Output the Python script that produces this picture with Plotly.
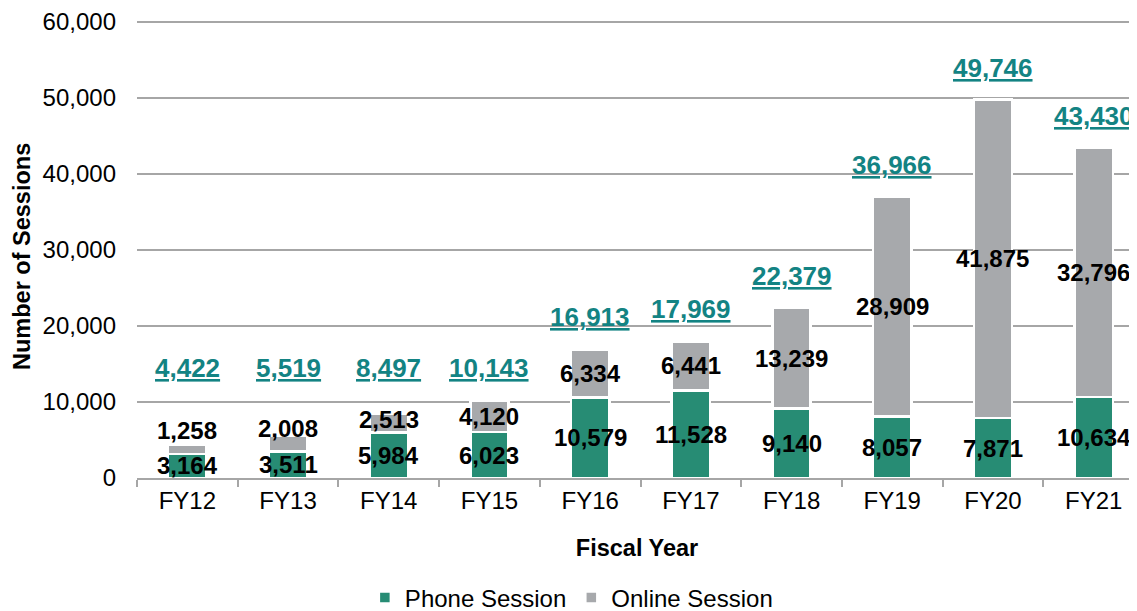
import plotly.graph_objects as go

years = ["FY12", "FY13", "FY14", "FY15", "FY16", "FY17", "FY18", "FY19", "FY20", "FY21"]
phone = [3164, 3511, 5984, 6023, 10579, 11528, 9140, 8057, 7871, 10634]
online = [1258, 2008, 2513, 4120, 6334, 6441, 13239, 28909, 41875, 32796]
totals = [4422, 5519, 8497, 10143, 16913, 17969, 22379, 36966, 49746, 43430]

GREEN = "#278C74"
GRAY = "#A7A9AC"
TEAL = "#138383"
FONT = "Liberation Sans, Arial, sans-serif"

fig = go.Figure()
fig.add_trace(go.Bar(x=years, y=phone, name="Phone Session", marker=dict(color=GREEN, line=dict(color="white", width=2.5)), width=0.38))
fig.add_trace(go.Bar(x=years, y=online, name="Online Session", marker=dict(color=GRAY, line=dict(color="white", width=2.5)), width=0.38))

ann = []
for i, yr in enumerate(years):
    p, o, t = phone[i], online[i], totals[i]
    ann.append(dict(x=yr, y=p / 2, text=f"{p:,}", showarrow=False, yanchor="middle",
                    font=dict(family=FONT, size=24, color="black", weight="bold")))
    oy = max(p + o / 2, p / 2 + 4700)
    ann.append(dict(x=yr, y=oy, text=f"{o:,}", showarrow=False, yanchor="middle",
                    font=dict(family=FONT, size=24, color="black", weight="bold")))
    ty = max(t, 10200) + 4200
    ann.append(dict(x=yr, y=ty, text=f"{t:,}", showarrow=False, yanchor="middle",
                    font=dict(family=FONT, size=26, color=TEAL, weight="bold", lineposition="under")))

# y-axis title as a rotated annotation
ann.append(dict(xref="paper", yref="paper", x=-0.115, y=0.4825, xanchor="center", yanchor="middle",
                text="<b>Number of Sessions</b>", textangle=-90, showarrow=False,
                font=dict(family=FONT, size=23.5, color="black")))

# page body has an 8px margin: figure sits at (8, 8) in the window
fig.update_layout(
    barmode="stack",
    width=1129, height=603,
    margin=dict(l=129, r=0, t=12, b=133, autoexpand=False),
    plot_bgcolor="white", paper_bgcolor="white",
    font=dict(family=FONT, size=24, color="black"),
    annotations=ann,
    showlegend=True,
    legend=dict(orientation="h", xref="container", yref="paper", x=0.499, xanchor="center",
                y=-0.262, yanchor="middle", font=dict(family=FONT, size=24, color="black"),
                itemwidth=30, traceorder="normal"),
    xaxis=dict(
        title=dict(text="<b>Fiscal Year</b>", font=dict(family=FONT, size=23.5, color="black"), standoff=27),
        range=[-0.5, 9.43], showline=True, linecolor="#A6A6A6", linewidth=1.5,
        ticks="outside", tickson="boundaries", ticklen=7, tickcolor="#A6A6A6", tickwidth=1.5,
        tickfont=dict(family=FONT, size=24, color="black"), showgrid=False, automargin=False,
    ),
    yaxis=dict(
        range=[0, 60200], tickvals=[0, 10000, 20000, 30000, 40000, 50000, 60000], tickformat=",d",
        showgrid=True, gridcolor="#A6A6A6", gridwidth=1.5, zeroline=False, showline=False,
        ticks="", tickfont=dict(family=FONT, size=24, color="black"), ticklabelstandoff=20,
        ticklabeloverflow="allow", automargin=False,
    ),
)

fig.write_html("out.html")
